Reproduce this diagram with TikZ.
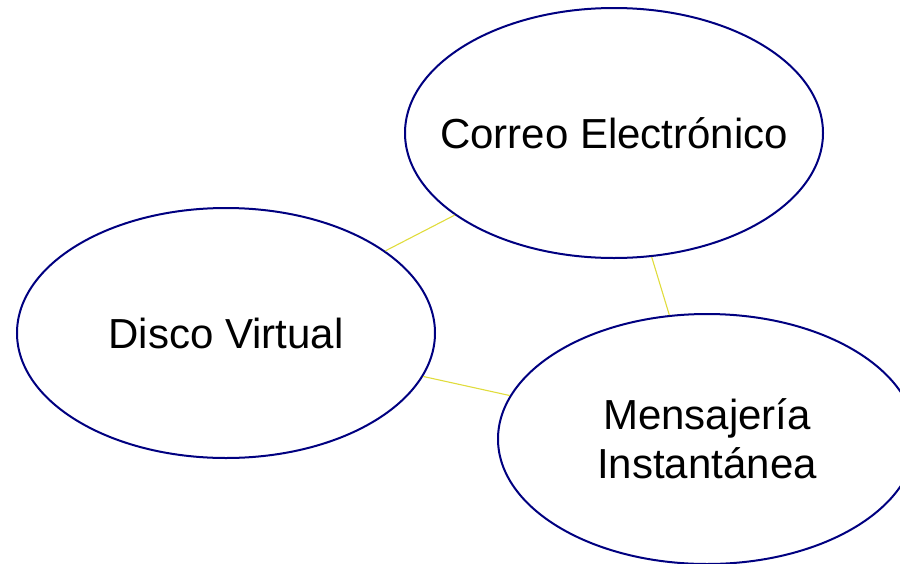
\documentclass[tikz,border=0pt]{standalone}
\usepackage{fontspec}
\setmainfont{Liberation Sans}
\usetikzlibrary{shapes.geometric}

\definecolor{rim}{HTML}{000080}
\definecolor{wire}{HTML}{E0DC3C}

\begin{document}
\begin{tikzpicture}[x=1pt, y=-1pt, node distance=300pt, auto]
\tikzstyle{bubble} = [ellipse, draw=rim, line width=2pt, fill=white,
                      minimum width=418pt, minimum height=250pt, inner sep=0pt,
                      align=center, font=\fontsize{42}{49}\selectfont]
\tikzstyle{link} = [draw=wire, line width=1.1pt]

\useasboundingbox (0,0) rectangle (900,563);
\clip (0,0) rectangle (900,563);

\node[bubble] (disco) at (226,333) {Disco Virtual};
% text is wider than the ellipse would allow, so squeeze it
\node[bubble, inner xsep=-27pt, right of=disco, xshift=88pt, yshift=200pt] (correo) {Correo Electrónico};
\node[bubble, below of=correo, xshift=93pt, yshift=-6pt] (mensajeria) {Mensajería\\Instantánea};

\draw[link] (disco) -- (correo);
\draw[link] (correo) -- (mensajeria);
\draw[link] (disco) -- (mensajeria);
\end{tikzpicture}
\end{document}
